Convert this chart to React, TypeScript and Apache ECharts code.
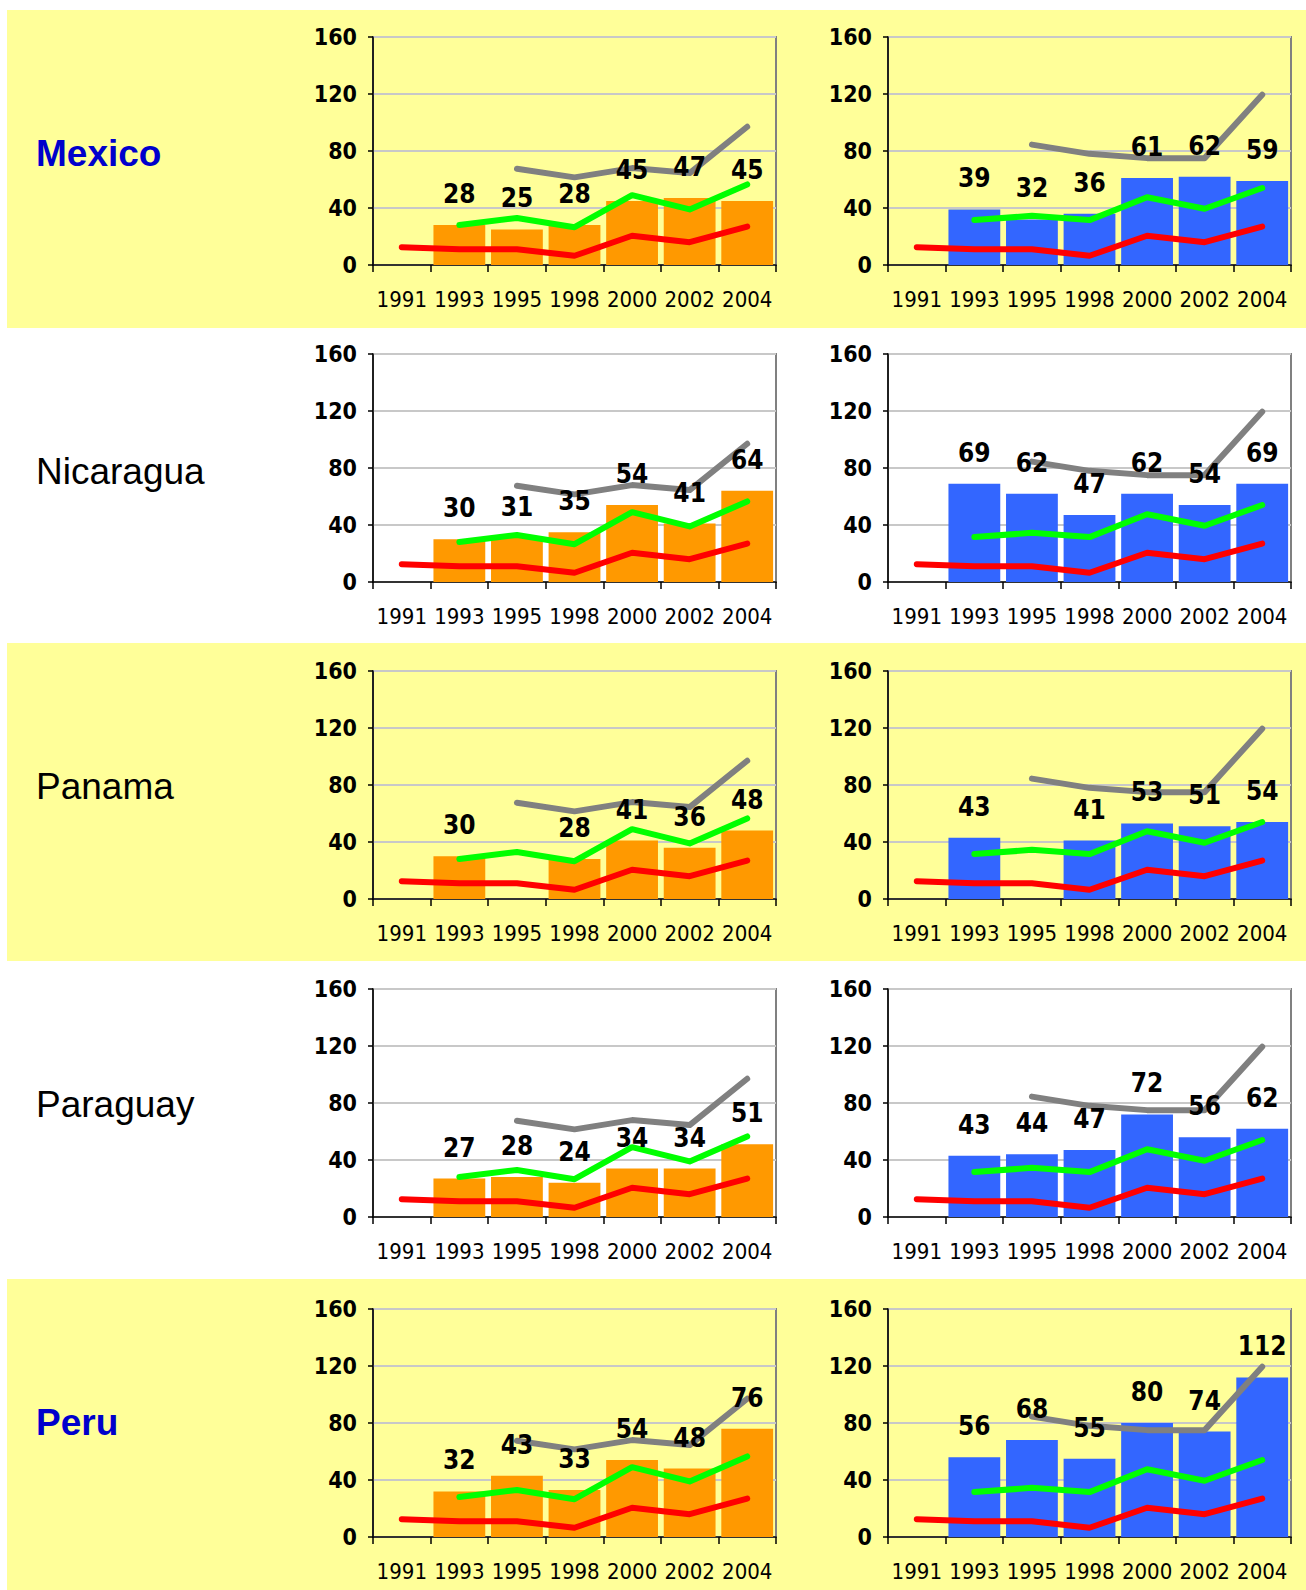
import React, { useEffect, useRef } from "react";
import * as echarts from "echarts";

const years = ["1991", "1993", "1995", "1998", "2000", "2002", "2004"];
const yTicks = { min: 0, max: 160, interval: 40 };

// Reference lines shared by every chart
const redLine = [12.5, 11, 11, 6.5, 20.5, 16, 27];
const leftGreen = [null, 28, 33, 26.5, 49, 39, 56.5];
const leftGray = [null, null, 67.5, 61.5, 68, 64.5, 97];
const rightGreen = [null, 31.5, 34.5, 31.5, 47.5, 39.5, 54];
const rightGray = [null, null, 84.5, 78, 75, 75, 119.5];

const countries = ["Mexico", "Nicaragua", "Panama", "Paraguay", "Peru"];
const highlighted = [true, false, false, false, true];

const mexicoLeft = [null, 28, 25, 28, 45, 47, 45];
const mexicoRight = [null, 39, 32, 36, 61, 62, 59];
const nicaraguaLeft = [null, 30, 31, 35, 54, 41, 64];
const nicaraguaRight = [null, 69, 62, 47, 62, 54, 69];
const panamaLeft = [null, 30, null, 28, 41, 36, 48];
const panamaRight = [null, 43, null, 41, 53, 51, 54];
const paraguayLeft = [null, 27, 28, 24, 34, 34, 51];
const paraguayRight = [null, 43, 44, 47, 72, 56, 62];
const peruLeft = [null, 32, 43, 33, 54, 48, 76];
const peruRight = [null, 56, 68, 55, 80, 74, 112];

const leftBars = [mexicoLeft, nicaraguaLeft, panamaLeft, paraguayLeft, peruLeft];
const rightBars = [mexicoRight, nicaraguaRight, panamaRight, paraguayRight, peruRight];

const W = 1306;
const H = 1590;
const rowTops = [10, 328, 643, 961, 1279];
const rowBottoms = [328, 643, 961, 1279, 1590];
const plotTops = [37, 354, 671, 989, 1309];
const plotH = 228;
const plotLefts = [373, 888];
const plotW = 403;

const NARROW = "'Liberation Sans Narrow', 'Arial Narrow', 'DejaVu Sans Condensed', sans-serif";
const SANS = "'Liberation Sans', Arial, Helvetica, sans-serif";

function buildOption() {
  const grid: any[] = [];
  const xAxis: any[] = [];
  const yAxis: any[] = [];
  const series: any[] = [];
  const graphic: any[] = [];

  // yellow bands for rows 1, 3, 5
  [0, 2, 4].forEach((r) => {
    graphic.push({
      type: "rect",
      z: -10,
      silent: true,
      shape: { x: 7, y: rowTops[r], width: W - 7, height: rowBottoms[r] - rowTops[r] },
      style: { fill: "#FFFF99" },
    });
  });

  countries.forEach((name, r) => {
    graphic.push({
      type: "text",
      z: 10,
      x: 36,
      y: rowTops[r] + 143,
      style: {
        text: name,
        fontSize: 37,
        fontWeight: highlighted[r] ? "bold" : "normal",
        fontFamily: SANS,
        fill: highlighted[r] ? "#0000CC" : "#000000",
        verticalAlign: "middle",
        align: "left",
      },
    });

    [0, 1].forEach((side) => {
      const idx = grid.length;
      grid.push({
        left: plotLefts[side],
        top: plotTops[r],
        width: plotW,
        height: plotH,
        show: true,
        borderColor: "#808080",
        borderWidth: 2,
        backgroundColor: "transparent",
        containLabel: false,
      });
      xAxis.push({
        type: "category",
        gridIndex: idx,
        data: years,
        boundaryGap: true,
        axisLine: { show: true, lineStyle: { color: "#000", width: 1.5 } },
        axisTick: { show: true, interval: 0, length: 7, lineStyle: { color: "#000", width: 1.5 } },
        axisLabel: {
          interval: 0,
          margin: 23,
          fontSize: 22,
          fontFamily: NARROW,
          color: "#000",
        },
        splitLine: { show: false },
      });
      yAxis.push({
        type: "value",
        gridIndex: idx,
        min: yTicks.min,
        max: yTicks.max,
        interval: yTicks.interval,
        axisLine: { show: true, lineStyle: { color: "#000", width: 1.5 } },
        axisTick: { show: true, length: 5, lineStyle: { color: "#000", width: 1.5 } },
        axisLabel: {
          margin: 16,
          fontSize: 23,
          fontWeight: "bold",
          fontFamily: NARROW,
          color: "#000",
        },
        splitLine: { show: true, lineStyle: { color: "#C8C8C8", width: 2 } },
      });

      const bars = side === 0 ? leftBars[r] : rightBars[r];
      series.push({
        type: "bar",
        xAxisIndex: idx,
        yAxisIndex: idx,
        data: bars,
        barWidth: "90%",
        barGap: "-100%",
        itemStyle: { color: side === 0 ? "#FF9900" : "#3366FF" },
        label: { show: false },
      });
      const lines = [
        { data: redLine, color: "#FF0000" },
        { data: side === 0 ? leftGreen : rightGreen, color: "#00FF00" },
        { data: side === 0 ? leftGray : rightGray, color: "#808080" },
      ];
      lines.forEach((l) => {
        series.push({
          type: "line",
          xAxisIndex: idx,
          yAxisIndex: idx,
          data: l.data,
          symbol: "none",
          connectNulls: false,
          lineStyle: { color: l.color, width: 6, cap: "round", join: "round" },
          label: { show: false },
        });
      });
      // transparent copy of the bars that carries the value labels above the lines
      series.push({
        type: "bar",
        xAxisIndex: idx,
        yAxisIndex: idx,
        data: bars,
        barWidth: "90%",
        barGap: "-100%",
        z: 6,
        silent: true,
        itemStyle: { color: "rgba(0,0,0,0)" },
        label: {
          show: true,
          position: "top",
          distance: 18,
          fontSize: 26,
          fontWeight: "bold",
          fontFamily: NARROW,
          color: "#000",
        },
      });
    });
  });

  return {
    animation: false,
    backgroundColor: "#FFFFFF",
    grid,
    xAxis,
    yAxis,
    series,
    graphic,
  };
}

export default function App() {
  const ref = useRef<HTMLDivElement>(null);
  useEffect(() => {
    if (!ref.current) return;
    const chart = echarts.init(ref.current, undefined, { renderer: "svg", width: W, height: H });
    chart.setOption(buildOption());
    return () => chart.dispose();
  }, []);
  return (
    <div
      ref={ref}
      style={{ position: "absolute", left: 0, top: 0, width: W, height: H }}
    />
  );
}
